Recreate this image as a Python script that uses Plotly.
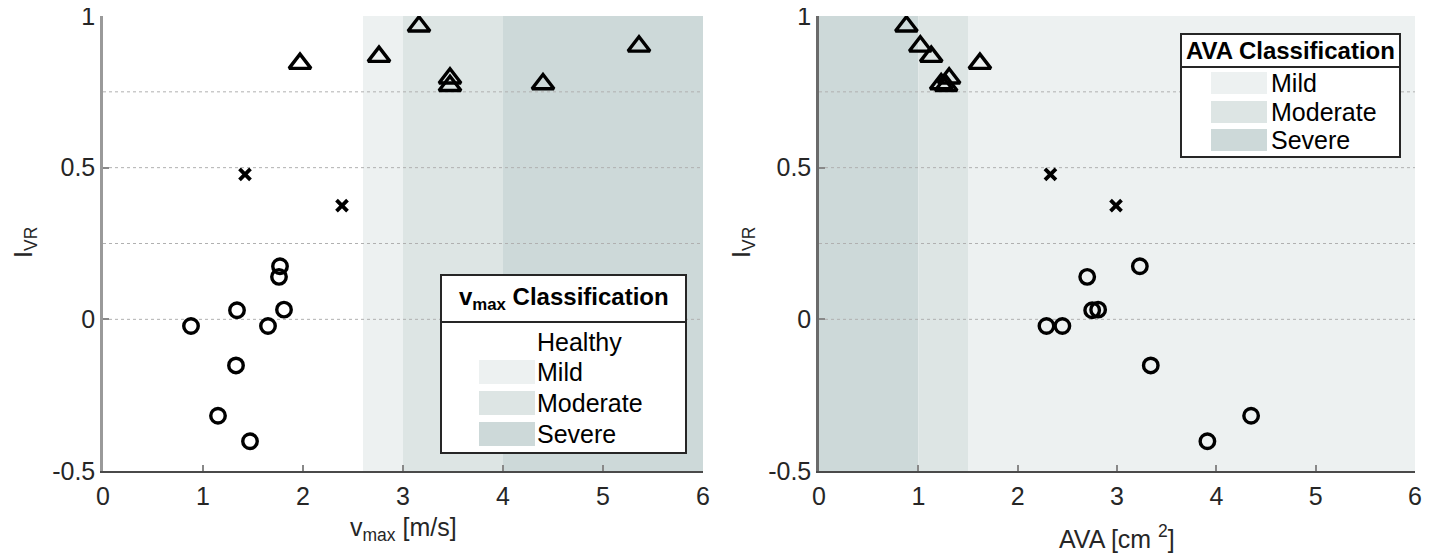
import plotly.graph_objects as go

# page body has an 8px margin; figure fills the rest of the 1440x556 window
OFF = 8
W, H = 1440 - OFF, 556 - OFF

# ---- data ----
ivr_healthy = [-0.022, 0.03, -0.152, -0.318, -0.402, -0.022, 0.032, 0.14, 0.175]
vmax_healthy = [0.88, 1.34, 1.33, 1.15, 1.47, 1.65, 1.81, 1.76, 1.77]
ava_healthy = [2.29, 2.75, 3.34, 4.35, 3.91, 2.45, 2.81, 2.70, 3.23]

ivr_mid = [0.478, 0.375]
vmax_mid = [1.42, 2.39]
ava_mid = [2.33, 2.99]

ivr_sev = [0.966, 0.90, 0.866, 0.843, 0.795, 0.776, 0.77]
vmax_sev = [3.16, 5.36, 2.76, 1.97, 3.47, 4.40, 3.47]
ava_sev = [0.88, 1.02, 1.13, 1.62, 1.31, 1.23, 1.28]

vmax_bands = {"Mild": (2.6, 3.0), "Moderate": (3.0, 4.0), "Severe": (4.0, 6.0)}
ava_bands = {"Severe": (0.0, 1.0), "Moderate": (1.0, 1.5), "Mild": (1.5, 6.0)}
band_colors = {"Mild": "#edf1f1", "Moderate": "#dde5e4", "Severe": "#cdd9d9"}
grid_levels = [0.75, 0.5, 0.25, 0.0]
x_ticks = [0, 1, 2, 3, 4, 5, 6]
y_ticks = [-0.5, 0, 0.5, 1]
y_ticktext = ["-0.5", "0", "0.5", "1"]

FONT = "Liberation Sans, Arial, Helvetica, sans-serif"
FS = 25
FSH = 24
TXT = "#262626"


def px(x):
    return (x - OFF) / W


def py(y):
    return 1 - (y - OFF) / H


fig = go.Figure()

panels = [
    ("x", "y", vmax_healthy, vmax_mid, vmax_sev),
    ("x2", "y2", ava_healthy, ava_mid, ava_sev),
]
for xa, ya, xh, xm, xs in panels:
    fig.add_trace(go.Scatter(x=xh, y=ivr_healthy, mode="markers", xaxis=xa, yaxis=ya,
                             marker=dict(symbol="circle-open", size=14.5, color="black",
                                         line=dict(width=3.4, color="black")),
                             showlegend=False))
    fig.add_trace(go.Scatter(x=xm, y=ivr_mid, mode="markers", xaxis=xa, yaxis=ya,
                             marker=dict(symbol="x-thin-open", size=11, color="black",
                                         line=dict(width=3.8, color="black")),
                             showlegend=False))
    fig.add_trace(go.Scatter(x=xs, y=ivr_sev, mode="markers", xaxis=xa, yaxis=ya,
                             marker=dict(symbol="triangle-up-open", size=19, color="black",
                                         line=dict(width=3.4, color="black")),
                             showlegend=False))

shapes = []
for bands, xr, yr in [(vmax_bands, "x", "y"), (ava_bands, "x2", "y2")]:
    for name, (a, b) in bands.items():
        shapes.append(dict(type="rect", xref=xr, yref=yr, x0=a, x1=b, y0=-0.5, y1=1,
                           fillcolor=band_colors[name], line=dict(width=0), layer="below"))
    for g in grid_levels:
        shapes.append(dict(type="line", xref=xr, yref=yr, x0=0, x1=6, y0=g, y1=g,
                           line=dict(color="#b0b0b0", width=1, dash="dot"), layer="below"))

annotations = []


def legend_box(x0, y0, x1, y1, sep, title, entries, sw_x0, sw_x1, text_x):
    shapes.append(dict(type="rect", xref="paper", yref="paper", x0=px(x0), x1=px(x1),
                       y0=py(y1), y1=py(y0), fillcolor="white",
                       line=dict(color="#262626", width=2)))
    shapes.append(dict(type="line", xref="paper", yref="paper", x0=px(x0), x1=px(x1),
                       y0=py(sep), y1=py(sep), line=dict(color="#262626", width=2)))
    annotations.append(dict(xref="paper", yref="paper", x=px((x0 + x1) / 2), y=py((y0 + sep) / 2),
                            text=title, showarrow=False, xanchor="center", yanchor="middle",
                            font=dict(family=FONT, size=FSH, color="black")))
    for name, yc, sw in entries:
        if sw:
            shapes.append(dict(type="rect", xref="paper", yref="paper", x0=px(sw_x0), x1=px(sw_x1),
                               y0=py(yc + sw / 2), y1=py(yc - sw / 2), fillcolor=band_colors[name],
                               line=dict(width=0)))
        annotations.append(dict(xref="paper", yref="paper", x=px(text_x), y=py(yc), text=name,
                                showarrow=False, xanchor="left", yanchor="middle",
                                font=dict(family=FONT, size=FS, color="black")))


legend_box(441, 275, 686, 453, 322, "<b>v<sub>max</sub> Classification</b>",
           [("Healthy", 342, 0), ("Mild", 372, 24), ("Moderate", 403, 24), ("Severe", 434, 24)],
           479, 535, 535)
legend_box(1181, 34, 1400, 157, 67, "<b>AVA Classification</b>",
           [("Mild", 83, 22), ("Moderate", 112, 22), ("Severe", 140, 22)],
           1211, 1267, 1269)

# axis titles
annotations.append(dict(xref="paper", yref="paper", x=px(25), y=py(243), text="I<sub>VR</sub>",
                        textangle=-90, showarrow=False, xanchor="center", yanchor="middle",
                        font=dict(family=FONT, size=FS, color=TXT)))
annotations.append(dict(xref="paper", yref="paper", x=px(743), y=py(243), text="I<sub>VR</sub>",
                        textangle=-90, showarrow=False, xanchor="center", yanchor="middle",
                        font=dict(family=FONT, size=FS, color=TXT)))
annotations.append(dict(xref="paper", yref="paper", x=px(403), y=py(529), text="v<sub>max</sub> [m/s]",
                        showarrow=False, xanchor="center", yanchor="middle",
                        font=dict(family=FONT, size=FS, color=TXT)))
annotations.append(dict(xref="paper", yref="paper", x=px(1117), y=py(537), text="AVA [cm <sup>2</sup>]",
                        showarrow=False, xanchor="center", yanchor="middle",
                        font=dict(family=FONT, size=FS, color=TXT)))

xcommon = dict(range=[0, 6], tickvals=x_ticks, ticks="inside", ticklen=6, tickwidth=1.5,
               tickcolor="#888888", showline=True, linecolor="#4a4a4a", linewidth=2,
               showgrid=False, zeroline=False, automargin=False, ticklabelstandoff=2,
               ticklabeloverflow="allow",
               tickfont=dict(family=FONT, size=FS, color=TXT))
ycommon = dict(range=[-0.5, 1], tickvals=y_ticks, ticktext=y_ticktext, ticks="inside", ticklen=6,
               tickwidth=1.5, tickcolor="#888888", showline=True, linewidth=2.5,
               showgrid=False, zeroline=False, automargin=False, ticklabeloverflow="allow",
               tickfont=dict(family=FONT, size=FS, color=TXT))

fig.update_layout(
    width=W, height=H,
    margin=dict(l=0, r=0, t=0, b=0, pad=0, autoexpand=False),
    paper_bgcolor="white", plot_bgcolor="white",
    showlegend=False,
    xaxis=dict(domain=[px(103), px(703)], anchor="y", **xcommon),
    yaxis=dict(domain=[py(471), py(16)], anchor="x", linecolor="#9a9a9a", **ycommon),
    xaxis2=dict(domain=[px(819), px(1415)], anchor="y2", **xcommon),
    yaxis2=dict(domain=[py(471), py(16)], anchor="x2", linecolor="#6a6a6a", **ycommon),
    shapes=shapes,
    annotations=annotations,
)

fig.write_html("out.html")
